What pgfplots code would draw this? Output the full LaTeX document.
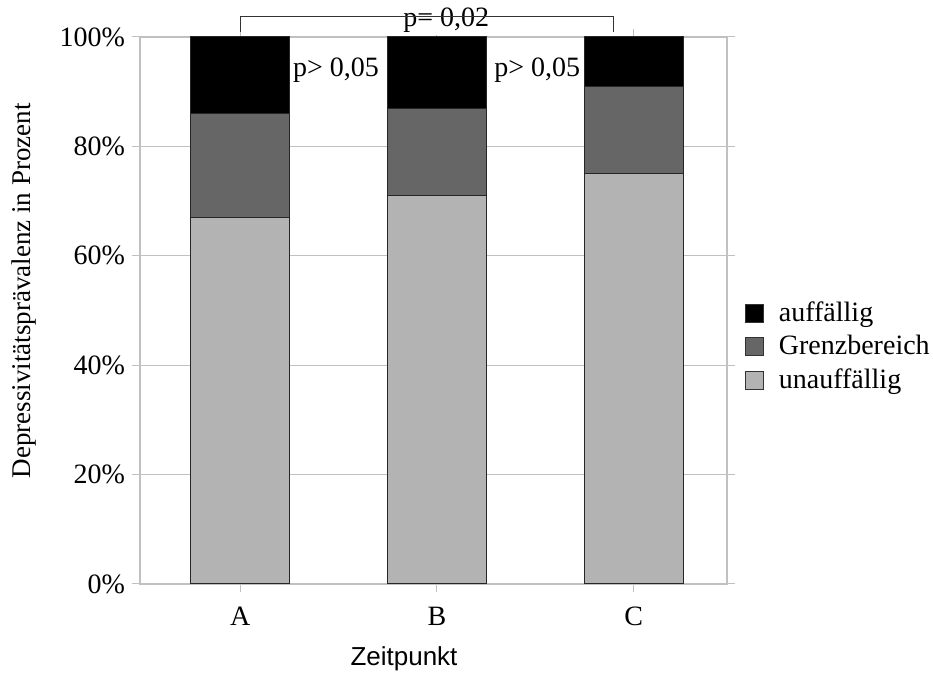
\documentclass[border=0pt]{standalone}
\usepackage{pgfplots}
\pgfplotsset{compat=1.18}
\usepackage{fontspec}
\setmainfont{Liberation Serif}
\newfontfamily\arial{Liberation Sans}
\definecolor{light}{HTML}{B3B3B3}
\definecolor{dark}{HTML}{666666}
\definecolor{gridc}{HTML}{C0C0C0}
\begin{document}
\begin{tikzpicture}
\begin{axis}[
  at={(0,0)}, anchor=south west,
  scale only axis,
  width=293.5pt, height=273.5pt,
  xmin=-0.51, xmax=2.475,
  ymin=0, ymax=100,
  ybar stacked,
  bar width=49.5pt,
  xtick={0,1,2}, xticklabels={A,B,C},
  ytick={0,20,40,60,80,100},
  yticklabel={\pgfmathprintnumber{\tick}\%},
  /pgf/number format/assume math mode=true,
  tick label style={font=\fontsize{14}{16}\selectfont},
  xticklabel style={yshift=-4pt},
  tick align=outside,
  major tick length=4pt,
  tick style={gridc, line width=0.5pt},
  axis line style={gridc, line width=0.6pt},
  ymajorgrids,
  major grid style={gridc, line width=0.5pt},
  xlabel={\arial Zeitpunkt},
  xlabel style={at={(axis description cs:0.4497,-0.137)}, anchor=center, font=\fontsize{13}{15}\selectfont},
  ylabel={Depressivitätsprävalenz in Prozent},
  ylabel style={at={(axis description cs:-0.198,0.536)}, rotate=0, anchor=center, font=\fontsize{13.5}{16}\selectfont},
  clip=false,
  reverse legend,
  legend cell align=left,
  legend style={at={(axis description cs:1.0196,0.434)}, anchor=west, draw=none, fill=none,
    font=\fontsize{14}{16}\selectfont, row sep=1.5pt,
    /tikz/every odd column/.append style={column sep=5.5pt}},
  legend image code/.code={\draw[#1, draw=black!80, line width=0.5pt] (0pt,-4.5pt) rectangle (9pt,4.5pt);},
  every axis plot/.append style={draw=black!85, line width=0.5pt},
]
\addplot[fill=light] coordinates {(0,67) (1,71) (2,75)};
\addlegendentry{unauffällig}
\addplot[fill=dark] coordinates {(0,19) (1,16) (2,16)};
\addlegendentry{Grenzbereich}
\addplot[fill=black] coordinates {(0,14) (1,13) (2,9)};
\addlegendentry{auffällig}
\draw[black!80, line width=0.5pt] (axis cs:0,101) -- (axis cs:0,103.66) -- (axis cs:1.897,103.66) -- (axis cs:1.897,101);
\node[fill=white, inner sep=1pt, anchor=base, font=\fontsize{14}{16}\selectfont] at (axis cs:1.047,101.83) {p= 0,02};
\node[inner sep=0pt, anchor=base, font=\fontsize{14}{16}\selectfont] at (axis cs:0.487,92.74) {p> 0,05};
\node[inner sep=0pt, anchor=base, font=\fontsize{14}{16}\selectfont] at (axis cs:1.510,92.74) {p> 0,05};
\end{axis}
\pgfresetboundingbox
\path[use as bounding box] (-70pt,-44.5pt) rectangle (396.5pt,292pt);
\end{tikzpicture}
\end{document}
